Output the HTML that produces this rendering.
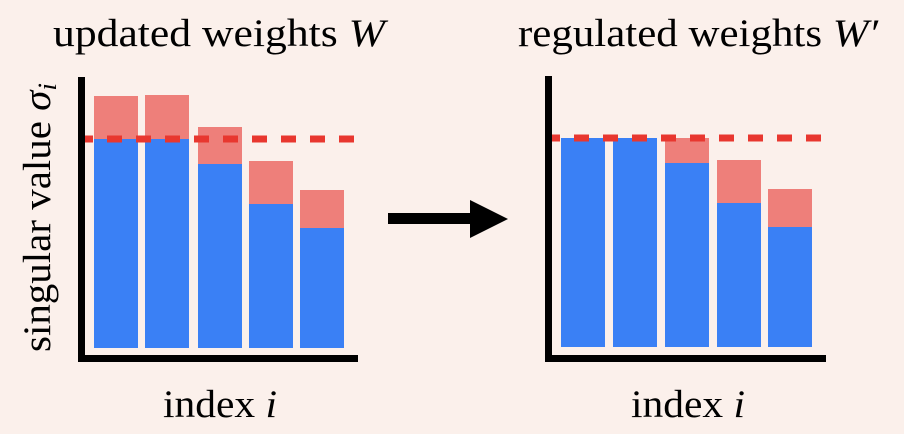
<!DOCTYPE html>
<html><head><meta charset="utf-8"><style>
html,body{margin:0;padding:0;background:#FBF0EB;}
svg{display:block;}
.t{font-family:"Liberation Serif","Times New Roman",Times,serif;fill:#000;}
</style></head><body>
<svg width="904" height="434" viewBox="0 0 904 434" xmlns="http://www.w3.org/2000/svg">
<rect width="904" height="434" fill="#FBF0EB"/>
<!-- titles -->
<text class="t" font-family="Liberation Serif, serif" x="53" y="46" font-size="39" textLength="332" lengthAdjust="spacingAndGlyphs">updated weights <tspan font-style="italic">W</tspan></text>
<text class="t" font-family="Liberation Serif, serif" x="518" y="46" font-size="39" textLength="360" lengthAdjust="spacingAndGlyphs">regulated weights <tspan font-style="italic">W′</tspan></text>
<!-- y label -->
<text class="t" font-family="Liberation Serif, serif" transform="translate(50,352) rotate(-90)" x="0" y="0" font-size="39" textLength="269" lengthAdjust="spacingAndGlyphs">singular value <tspan font-style="italic">σ</tspan><tspan font-style="italic" font-size="26" dy="6">i</tspan></text>
<!-- x labels -->
<text class="t" font-family="Liberation Serif, serif" x="163" y="417" font-size="39" textLength="114" lengthAdjust="spacingAndGlyphs">index <tspan font-style="italic">i</tspan></text>
<text class="t" font-family="Liberation Serif, serif" x="631" y="417" font-size="39" textLength="114" lengthAdjust="spacingAndGlyphs">index <tspan font-style="italic">i</tspan></text>

<!-- left chart -->
<g>
<rect x="94" y="96" width="44" height="43" fill="#EE7F7A"/><rect x="94" y="139" width="44" height="209" fill="#3A80F5"/>
<rect x="145" y="95" width="44" height="44" fill="#EE7F7A"/><rect x="145" y="139" width="44" height="209" fill="#3A80F5"/>
<rect x="198" y="127" width="44" height="37" fill="#EE7F7A"/><rect x="198" y="164" width="44" height="184" fill="#3A80F5"/>
<rect x="249" y="161" width="44" height="43" fill="#EE7F7A"/><rect x="249" y="204" width="44" height="144" fill="#3A80F5"/>
<rect x="300" y="190" width="44" height="38" fill="#EE7F7A"/><rect x="300" y="228" width="44" height="120" fill="#3A80F5"/>
<line x1="78" y1="139" x2="356" y2="139" stroke="#E8372F" stroke-width="7" stroke-dasharray="15 14"/>
<rect x="78" y="77" width="7" height="285" fill="#000"/>
<rect x="78" y="355" width="280" height="7" fill="#000"/>
</g>

<!-- right chart -->
<g>
<rect x="561" y="138" width="44" height="209" fill="#3A80F5"/>
<rect x="613" y="138" width="44" height="209" fill="#3A80F5"/>
<rect x="665" y="138" width="44" height="25" fill="#EE7F7A"/><rect x="665" y="163" width="44" height="184" fill="#3A80F5"/>
<rect x="717" y="160" width="44" height="43" fill="#EE7F7A"/><rect x="717" y="203" width="44" height="144" fill="#3A80F5"/>
<rect x="768" y="189" width="44" height="38" fill="#EE7F7A"/><rect x="768" y="227" width="44" height="120" fill="#3A80F5"/>
<line x1="545" y1="138" x2="823" y2="138" stroke="#E8372F" stroke-width="7" stroke-dasharray="15 14"/>
<rect x="545" y="76" width="7" height="286" fill="#000"/>
<rect x="545" y="355" width="281" height="7" fill="#000"/>
</g>

<!-- arrow -->
<rect x="388" y="213" width="84" height="11" fill="#000"/>
<polygon points="470,200 508,219 470,238" fill="#000"/>
</svg>
</body></html>
